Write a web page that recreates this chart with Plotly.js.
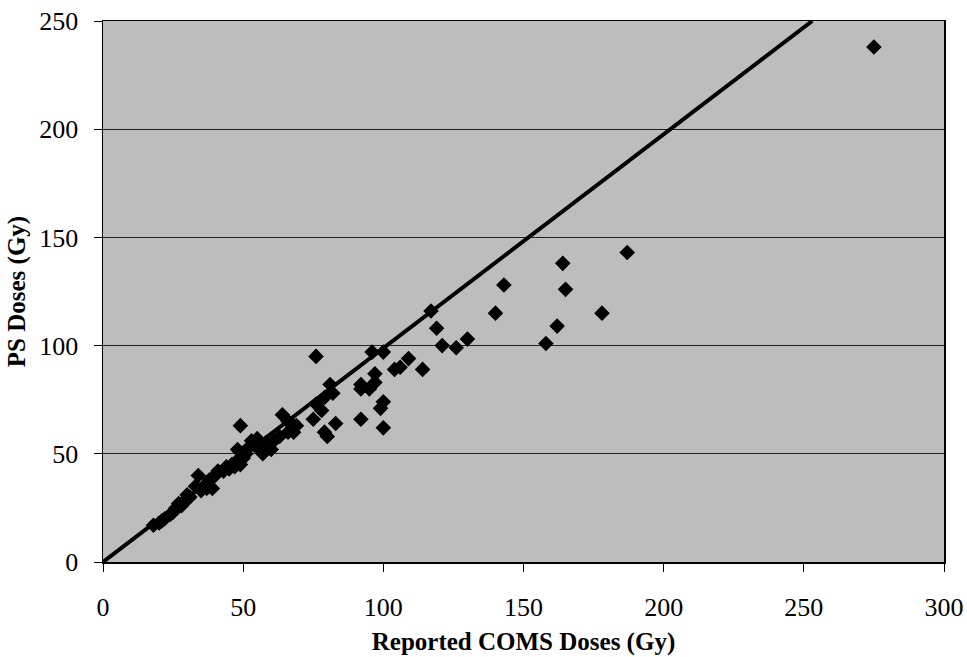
<!DOCTYPE html>
<html>
<head>
<meta charset="utf-8">
<script src="https://cdn.plot.ly/plotly-3.0.1.min.js"></script>
<style>html,body{margin:0;padding:0;background:#fff;}#chart{width:967px;height:657px;}</style>
</head>
<body>
<div id="chart"></div>
<script>
// Reported COMS doses (Gy)
const comsDoses = [18,20,21,22,24,25,26,27,28,29,30,30,31,33,34,35,36,37,38,39,40,41,43,44,45,46,47,48,48,49,49,50,51,52,53,54,55,56,57,58,59,60,61,63,64,66,66,68,68,69,
  75,76,76,78,79,79,80,81,82,83,92,92,92,95,96,97,97,99,100,100,100,104,106,109,114,117,119,121,126,130,140,143,158,162,164,165,178,187,275];
// PS doses (Gy)
const psDoses = [17,18,19,20,22,23,25,27,26,28,29,31,30,35,40,33,35,34,38,34,40,42,42,44,43,45,44,47,52,63,45,48,50,53,56,54,57,52,50,55,53,52,56,58,68,60,65,63,60,63,
  66,73,95,70,76,60,58,82,78,64,80,82,66,80,97,87,83,71,74,62,97,89,90,94,89,116,108,100,99,103,115,128,101,109,138,126,115,143,238];
// identity reference line (y = x)
const lineX = [0, 253];
const lineY = [0, 250];
const xTicks = [0, 50, 100, 150, 200, 250, 300];
const yTicks = [0, 50, 100, 150, 200, 250];

const serif = "Liberation Serif, Times New Roman, serif";

const traces = [
  {
    x: lineX, y: lineY, mode: 'lines', type: 'scatter',
    line: {color: '#000', width: 4}, hoverinfo: 'skip'
  },
  {
    x: comsDoses, y: psDoses, mode: 'markers', type: 'scatter',
    marker: {symbol: 'diamond', size: 12, color: '#000', line: {width: 0}},
    cliponaxis: false
  }
];

const layout = {
  width: 967, height: 657,
  margin: {l: 103, r: 23, t: 21, b: 95},
  paper_bgcolor: '#fff',
  plot_bgcolor: '#bdbdbd',
  showlegend: false,
  font: {family: serif, color: '#000'},
  xaxis: {
    range: [0, 300], tickvals: xTicks, ticktext: xTicks.map(String),
    showgrid: false, zeroline: false,
    showline: true, linecolor: '#000', linewidth: 1.5, mirror: true,
    ticks: 'outside', ticklen: 8, tickwidth: 1, tickcolor: '#000',
    ticklabelstandoff: 13,
    tickfont: {family: serif, size: 26, color: '#000'},
    title: {text: '<b>Reported COMS Doses (Gy)</b>', font: {family: serif, size: 25, color: '#000'}, standoff: 12},
    fixedrange: true
  },
  yaxis: {
    range: [0, 250], tickvals: yTicks, ticktext: yTicks.map(String),
    showgrid: true, gridcolor: '#222', gridwidth: 1,
    zeroline: false,
    showline: true, linecolor: '#000', linewidth: 1.5, mirror: true,
    ticks: 'outside', ticklen: 8, tickwidth: 1, tickcolor: '#000',
    ticklabelstandoff: 10,
    tickfont: {family: serif, size: 26, color: '#000'},
    title: {text: '<b>PS Doses (Gy)</b>', font: {family: serif, size: 25, color: '#000'}, standoff: 6},
    fixedrange: true
  }
};

Plotly.newPlot('chart', traces, layout, {staticPlot: true, displayModeBar: false});
</script>
</body>
</html>
